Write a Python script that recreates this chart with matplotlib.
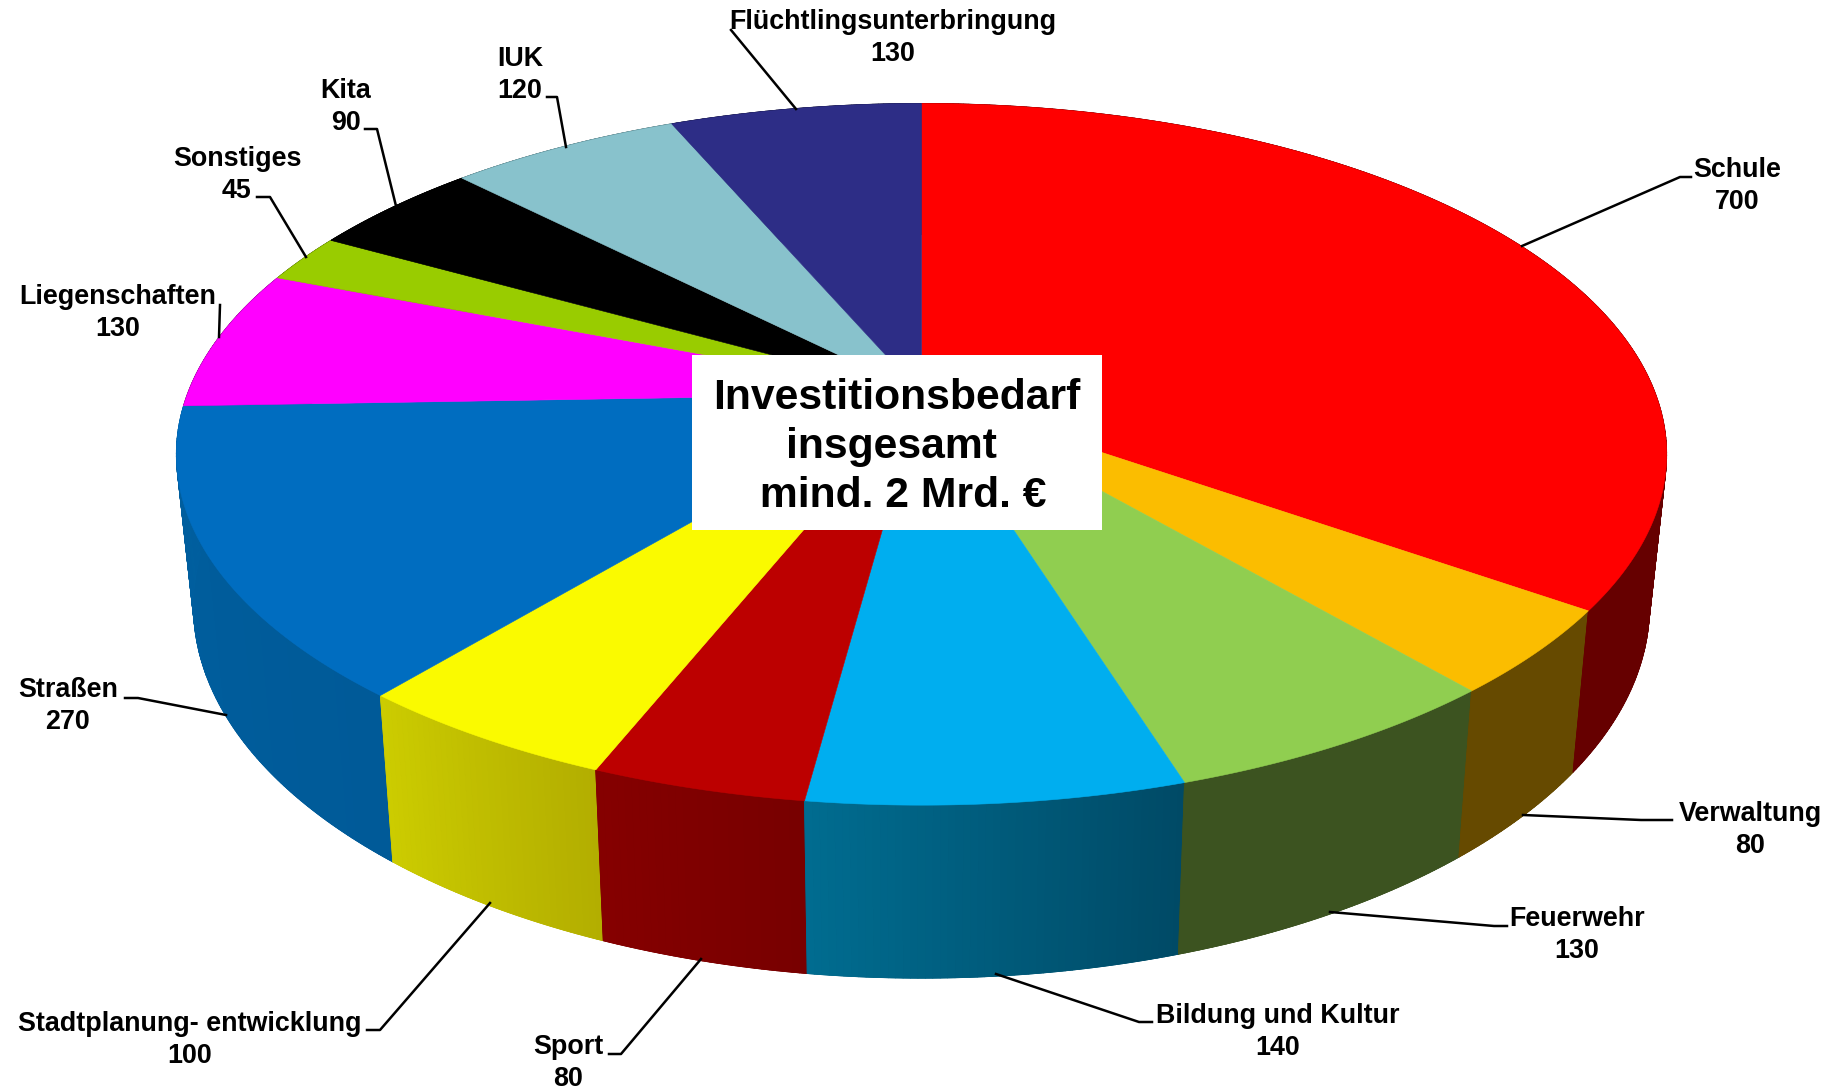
import numpy as np
import matplotlib
matplotlib.use("Agg")
import matplotlib.pyplot as plt
from matplotlib.collections import PolyCollection
from matplotlib.patches import Polygon, Rectangle

plt.rcParams['font.family'] = ['Liberation Sans', 'DejaVu Sans']

# values, clockwise from 12 o'clock
labels = ["Schule", "Verwaltung", "Feuerwehr", "Bildung und Kultur", "Sport",
          "Stadtplanung- entwicklung", "Straßen", "Liegenschaften", "Sonstiges",
          "Kita", "IUK", "Flüchtlingsunterbringung"]
values = [700, 80, 130, 140, 80, 100, 270, 130, 45, 90, 120, 130]

top_colors = ["#ff0000", "#fbbd00", "#90ce50", "#00aeef", "#bc0000", "#fafa00",
              "#006dc0", "#ff00ff", "#99cc00", "#000000", "#88c2cc", "#2d2d86"]
side_start = ["#660000", "#664a00", "#3c5320", "#006c90", "#850000", "#cccc00",
              "#005f9f", "#660066", "#3d5200", "#000000", "#365a60", "#121236"]
side_end = ["#660000", "#664a00", "#3c5320", "#004a66", "#780000", "#b3ae00",
            "#005a98", "#660066", "#3d5200", "#000000", "#365a60", "#121236"]

# where the label sits, and its leader line
label_pos = [(1737, 186), (1750, 830), (1577, 935), (1278, 1032), (568, 1063),
             (190, 1040), (68, 706), (118, 313), (237, 175), (346, 107),
             (520, 75), (893, 38)]
leaders = [
    [(1522, 246), (1680, 177), (1691, 177)],
    [(1523, 815), (1641, 820), (1672, 820)],
    [(1330, 912), (1494, 926), (1507, 926)],
    [(996, 974), (1139, 1022), (1152, 1022)],
    [(701, 959), (621, 1054), (609, 1054)],
    [(490, 903), (380, 1030), (367, 1030)],
    [(226, 715), (138, 698), (125, 698)],
    [(219, 337), (220, 305)],
    [(306, 257), (270, 197), (257, 197)],
    [(396, 206), (377, 129), (365, 129)],
    [(566, 147), (557, 97), (547, 97)],
    [(796, 109), (731, 30)],
]

# disc seen in perspective
CX, CY = 921.5, 393.8
A, B, K = 734.0, 340.4, 0.1725


def top_xy(t):
    u, v = np.sin(t), np.cos(t)
    w = 1 + K * v
    return CX + A * u / w, CY - B * v / w


def low_xy(t):
    x, y = top_xy(t)
    return CX + (x - CX) * 0.977, 978 + 1.06 * (y - 805)


fig = plt.figure(figsize=(18.43, 10.88), dpi=100)
ax = fig.add_axes([0, 0, 1, 1])
ax.set_xlim(0, 1843)
ax.set_ylim(1088, 0)
ax.axis("off")

edges = np.cumsum([0] + values) / sum(values) * 2 * np.pi

# outer wall first, back to front so the hidden wedges stay hidden
for i in range(len(values) - 1, -1, -1):
    ts = np.linspace(edges[i], edges[i + 1], max(int((edges[i + 1] - edges[i]) * 120), 2))
    x1, y1 = top_xy(ts)
    x2, y2 = low_xy(ts)
    c0 = np.array(matplotlib.colors.to_rgb(side_start[i]))
    c1 = np.array(matplotlib.colors.to_rgb(side_end[i]))
    # solid base underneath stops seams showing between the gradient strips
    base = list(zip(x1, y1)) + list(zip(x2[::-1], y2[::-1]))
    ax.add_patch(Polygon(base, closed=True, facecolor=(c0 + c1) / 2,
                         edgecolor=(c0 + c1) / 2, linewidth=0.5, zorder=2))
    quads = []
    cols = []
    for j in range(len(ts) - 1):
        quads.append([(x1[j], y1[j]), (x1[j + 1], y1[j + 1]), (x2[j + 1], y2[j + 1]), (x2[j], y2[j])])
        # wedges run right to left on the front, so the gradient is flipped
        f = 1 - j / max(len(ts) - 2, 1)
        cols.append(c0 + (c1 - c0) * f)
    ax.add_collection(PolyCollection(quads, facecolors=cols, edgecolors=cols, linewidths=0.6, zorder=2))

# top face
for i in range(len(values)):
    ts = np.linspace(edges[i], edges[i + 1], 200)
    x, y = top_xy(ts)
    pts = [(CX, CY)] + list(zip(x, y))
    ax.add_patch(Polygon(pts, closed=True, facecolor=top_colors[i],
                         edgecolor=top_colors[i], linewidth=0.4, zorder=3))

for i, name in enumerate(labels):
    xs, ys = zip(*leaders[i])
    ax.plot(xs, ys, color="black", lw=1.8, zorder=4, solid_joinstyle="round")
    ax.text(label_pos[i][0], label_pos[i][1], f"{name}\n{values[i]}", ha="center", va="center",
            fontsize=19.4, fontweight="bold", color="black", linespacing=1.26, zorder=5)

ax.add_patch(Rectangle((692, 355), 410, 175, facecolor="white", edgecolor="none", zorder=6))
ax.text(897, 447, "Investitionsbedarf\ninsgesamt \n mind. 2 Mrd. €", ha="center", va="center",
        fontsize=30.7, fontweight="bold", color="black", linespacing=1.3, zorder=7)

fig.savefig("out.png", dpi=100, facecolor="white")
